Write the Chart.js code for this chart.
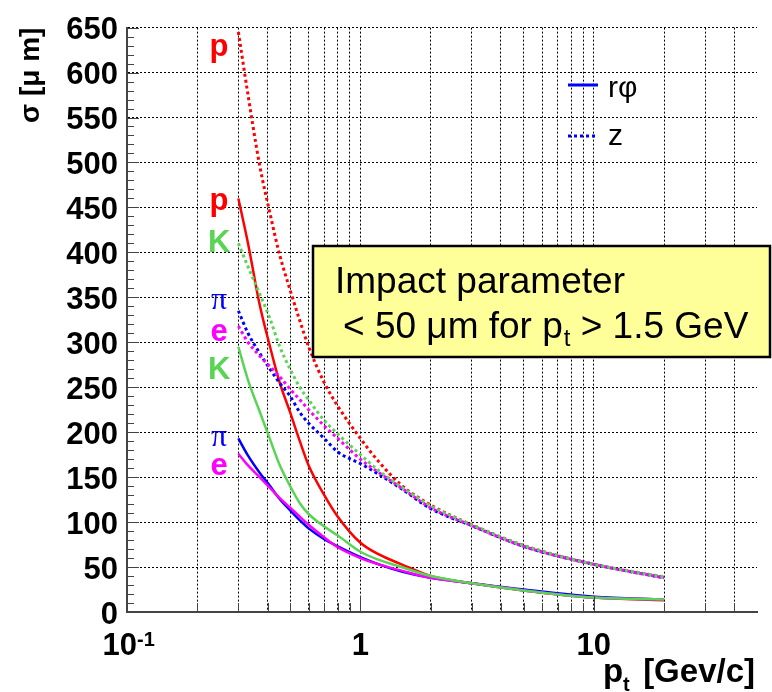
<!DOCTYPE html>
<html>
<head>
<meta charset="utf-8">
<script src="https://cdn.jsdelivr.net/npm/chart.js@4.4.1/dist/chart.umd.min.js"></script>
<style>
  html, body { margin: 0; padding: 0; background: #fff; }
  canvas { display: block; }
</style>
</head>
<body>
<canvas id="sigmaChart" width="772" height="692"></canvas>
<script>
Chart.defaults.font.family = "'Liberation Sans', Arial, sans-serif";
Chart.defaults.color = '#000';

/* values, sigma in um vs pt in GeV/c */
const pt = [0.3, 0.33, 0.37, 0.41, 0.45, 0.5, 0.55, 0.6, 0.7, 0.8, 1.0, 1.2, 1.5, 2, 3, 5, 10, 20];

const pRphi = [460, 410, 342, 295, 256, 222, 190, 163, 130, 106, 77, 64, 53, 40, 32, 24, 16, 13];
const kRphi = [295, 258, 223, 192, 164, 140, 121, 109, 95, 85, 67, 58, 50, 40, 32, 24, 16, 14];
const piRphi = [193, 174, 155, 140, 126, 113, 102, 93, 81, 73, 61, 53, 45, 38, 32, 25, 17, 14];
const eRphi = [176, 163, 150, 138, 127, 116, 106, 97, 83, 72, 60, 53, 46, 38, 32, 24, 16, 14];

const pZ = [645, 575, 497, 443, 398, 358, 324, 295, 255, 229, 193, 167, 141, 119, 97, 74, 53, 39];
const kZ = [410, 384, 354, 326, 296, 270, 250, 236, 213, 198, 175, 157, 139, 118, 97, 74, 53, 39];
const piZ = [335, 310, 288, 270, 255, 240, 222, 210, 193, 178, 165, 153, 137, 115, 96, 73, 53, 38];
const eZ = [318, 300, 285, 273, 262, 248, 236, 225, 207, 193, 170, 155, 138, 116, 96, 73, 53, 38];

/* axes */
const xGrid = [0.1, 0.2, 0.3, 0.4, 0.5, 0.6, 0.7, 0.8, 0.9, 1, 2, 3, 4, 5, 6, 7, 8, 9, 10, 20, 30, 40];
const xLabelValues = [0.1, 1, 10];
const xLabelText = ['10', '1', '10'];
const xLabelExp = ['-1', '', ''];

/* particle tags at the start of each curve (value coords) */
const tagText = ['p', 'p', 'K', 'π', 'e', 'K', 'π', 'e'];
const tagX = [0.248, 0.248, 0.248, 0.248, 0.248, 0.248, 0.248, 0.248];
const tagY = [628, 457, 410, 346, 311, 269, 194, 162];

const RED = '#ff0000', GREEN = '#59d454', BLUE = '#0000ff', MAGENTA = '#ff00ff';
const tagColor = [RED, RED, GREEN, BLUE, MAGENTA, GREEN, BLUE, MAGENTA];

const pts = arr => pt.map((v, i) => ({ x: v, y: arr[i] }));
const solid = (data, color) => ({ data: pts(data), borderColor: color, borderWidth: 2.5, pointRadius: 0, cubicInterpolationMode: 'monotone' });
const dotted = (data, color) => ({ data: pts(data), borderColor: color, borderWidth: 3, borderDash: [3, 3], pointRadius: 0, cubicInterpolationMode: 'monotone' });

const overlay = {
  id: 'overlay',
  afterDraw(chart) {
    const { ctx, chartArea: a, scales: { x, y } } = chart;
    ctx.save();

    // tick marks point into the frame
    ctx.strokeStyle = '#444';
    ctx.lineWidth = 1;
    ctx.beginPath();
    for (let v = 0; v <= 650; v += 10) {
      const py = Math.round(y.getPixelForValue(v)) + 0.5;
      const len = v % 50 === 0 ? 12 : 7;
      ctx.moveTo(a.left, py);
      ctx.lineTo(a.left + len, py);
    }
    xGrid.forEach(v => {
      const px = Math.round(x.getPixelForValue(v)) + 0.5;
      const len = xLabelValues.includes(v) ? 16 : 9;
      ctx.moveTo(px, a.bottom);
      ctx.lineTo(px, a.bottom - len);
    });
    ctx.stroke();

    // x tick labels with exponent
    ctx.fillStyle = '#000';
    ctx.textBaseline = 'alphabetic';
    xLabelValues.forEach((v, i) => {
      const px = x.getPixelForValue(v);
      ctx.font = "bold 31px 'Liberation Sans', Arial";
      if (xLabelExp[i]) {
        ctx.textAlign = 'right';
        ctx.fillText(xLabelText[i], px + 10, 655);
        ctx.textAlign = 'left';
        ctx.font = "bold 20px 'Liberation Sans', Arial";
        ctx.fillText(xLabelExp[i], px + 10, 646);
      } else {
        ctx.textAlign = 'center';
        ctx.fillText(xLabelText[i], px, 655);
      }
    });

    // x title p_t [Gev/c]
    ctx.font = "bold 33px 'Liberation Sans', Arial";
    ctx.textAlign = 'right';
    ctx.fillText('[Gev/c]', a.right - 2, 682);
    ctx.textAlign = 'left';
    ctx.fillText('p', a.right - 154, 682);
    ctx.font = "bold 20px 'Liberation Sans', Arial";
    ctx.fillText('t', a.right - 134, 691);

    // particle tags
    ctx.textAlign = 'center';
    ctx.textBaseline = 'middle';
    tagText.forEach((t, i) => {
      ctx.fillStyle = tagColor[i];
      ctx.font = t === 'π' ? "32px 'Liberation Serif', serif" : "bold 31px 'Liberation Sans', Arial";
      ctx.fillText(t, x.getPixelForValue(tagX[i]), y.getPixelForValue(tagY[i]));
    });

    // legend
    const lx = 568, ly1 = 85, ly2 = 136;
    ctx.lineWidth = 3;
    ctx.strokeStyle = BLUE;
    ctx.beginPath();
    ctx.moveTo(lx, ly1); ctx.lineTo(lx + 30, ly1);
    ctx.stroke();
    ctx.setLineDash([3, 3]);
    ctx.beginPath();
    ctx.moveTo(lx, ly2); ctx.lineTo(lx + 30, ly2);
    ctx.stroke();
    ctx.setLineDash([]);
    ctx.fillStyle = '#000';
    ctx.textAlign = 'left';
    ctx.textBaseline = 'alphabetic';
    ctx.font = "30px 'Liberation Sans', Arial";
    ctx.fillText('rφ', lx + 40, 97);
    ctx.fillText('z', lx + 40, 145);

    // text box
    ctx.fillStyle = '#ffff99';
    ctx.fillRect(313, 246, 457, 111);
    ctx.strokeStyle = '#000';
    ctx.lineWidth = 2.5;
    ctx.strokeRect(313, 246, 457, 111);
    ctx.fillStyle = '#000';
    ctx.font = "37px 'Liberation Sans', Arial";
    ctx.fillText('Impact parameter', 335, 293);
    let tx = 343;
    const seg1 = '< 50 μm for p';
    ctx.fillText(seg1, tx, 338);
    tx += ctx.measureText(seg1).width;
    ctx.font = "24px 'Liberation Sans', Arial";
    ctx.fillText('t', tx + 1, 346);
    tx += ctx.measureText('t').width + 1;
    ctx.font = "37px 'Liberation Sans', Arial";
    ctx.fillText(' > 1.5 GeV', tx, 338);

    ctx.restore();
  }
};

new Chart(document.getElementById('sigmaChart').getContext('2d'), {
  type: 'line',
  data: {
    datasets: [
      dotted(kZ, GREEN), dotted(eZ, MAGENTA), dotted(piZ, BLUE), dotted(pZ, RED),
      solid(kRphi, GREEN), solid(eRphi, MAGENTA), solid(piRphi, BLUE), solid(pRphi, RED)
    ]
  },
  options: {
    responsive: false,
    animation: false,
    layout: { padding: { top: 20, right: 15, left: 0, bottom: 0 } },
    plugins: { legend: { display: false }, tooltip: { enabled: false } },
    scales: {
      x: {
        type: 'logarithmic',
        min: 0.1, max: 50,
        afterBuildTicks: s => { s.ticks = xGrid.map(v => ({ value: v })); },
        afterFit: s => { s.height = 80; },
        ticks: { display: false, autoSkip: false },
        grid: { color: '#000', lineWidth: 1, drawTicks: false },
        border: { display: true, color: '#444', width: 2, dash: [2, 2] }
      },
      y: {
        min: 0, max: 650,
        afterFit: s => { s.width = 127; },
        ticks: { stepSize: 50, padding: 9, labelOffset: 3, font: { size: 31, weight: 'bold' } },
        grid: { color: '#000', lineWidth: 1, drawTicks: false },
        border: { display: true, color: '#444', width: 2, dash: [2, 2] },
        title: {
          display: true, text: 'σ [μ m]', align: 'end',
          font: { size: 28, weight: 'bold' }, padding: { top: 14, bottom: 0 }
        }
      }
    }
  },
  plugins: [overlay]
});
</script>
</body>
</html>
